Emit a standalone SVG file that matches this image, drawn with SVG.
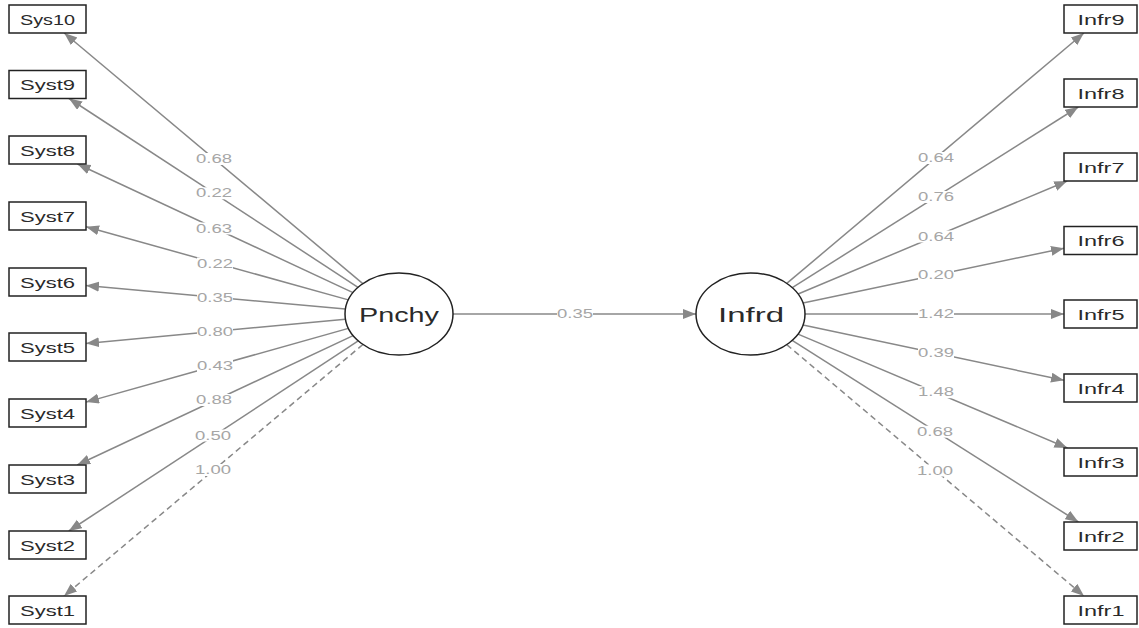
<svg xmlns="http://www.w3.org/2000/svg" width="1139" height="628" viewBox="0 0 1139 628">
<style>
.box{fill:#fff;stroke:#222;stroke-width:1.5}
.lat{fill:#fff;stroke:#222;stroke-width:1.5}
.bt{font-family:"Liberation Sans",Arial,sans-serif;font-size:15px;fill:#2a2a2a;text-anchor:middle;dominant-baseline:central}
.lt{font-family:"Liberation Sans",Arial,sans-serif;font-size:21px;fill:#2a2a2a;text-anchor:middle;dominant-baseline:central}
.e{stroke:#888;stroke-width:1.5;fill:none;marker-end:url(#ah)}
.d{stroke-dasharray:6 4}
.el{font-family:"Liberation Sans",Arial,sans-serif;font-size:12.5px;fill:#a6a6a6;text-anchor:middle;dominant-baseline:central}
.lb{fill:#fff}
</style>
<defs>
<marker id="ah" markerUnits="userSpaceOnUse" markerWidth="15" markerHeight="11" refX="13" refY="5" orient="auto">
<path d="M0,0 L13,5 L0,10 z" fill="#888"/>
</marker>
<rect id="bg" class="lb" x="-18" y="-6" width="36" height="12"/>
</defs>
<rect width="1139" height="628" fill="#fff"/>
<g id="connectors">
<line class="e" x1="362.8" y1="283.6" x2="64.2" y2="33"/>
<line class="e" x1="358" y1="287.3" x2="69" y2="98.5"/>
<line class="e" x1="353" y1="292.6" x2="77.5" y2="164"/>
<line class="e" x1="348.3" y1="299.9" x2="86" y2="226.8"/>
<line class="e" x1="345.4" y1="309.1" x2="86" y2="285.5"/>
<line class="e" x1="345.4" y1="319.2" x2="86" y2="343.4"/>
<line class="e" x1="348.4" y1="328.4" x2="86" y2="402.1"/>
<line class="e" x1="353.1" y1="335.6" x2="77.2" y2="465"/>
<line class="e" x1="358.2" y1="340.9" x2="68.8" y2="531"/>
<line class="e d" x1="362.9" y1="344.5" x2="64" y2="596"/>
<line class="e" x1="453" y1="314" x2="696" y2="314"/>
<line class="e" x1="786.8" y1="283.4" x2="1083.9" y2="33"/>
<line class="e" x1="792.3" y1="287.6" x2="1078.3" y2="107"/>
<line class="e" x1="798.1" y1="294" x2="1067.2" y2="181"/>
<line class="e" x1="803" y1="303" x2="1064" y2="248.2"/>
<line class="e" x1="805" y1="314" x2="1064" y2="314"/>
<line class="e" x1="803" y1="325.1" x2="1064" y2="380.3"/>
<line class="e" x1="798" y1="334.1" x2="1067.4" y2="448"/>
<line class="e" x1="792.2" y1="340.4" x2="1078.4" y2="522"/>
<line class="e d" x1="786.7" y1="344.6" x2="1084" y2="596"/>
<g id="edge-labels">
<use href="#bg" x="214" y="159"/><text class="el" x="214" y="159" textLength="36" lengthAdjust="spacingAndGlyphs">0.68</text>
<use href="#bg" x="214" y="193.3"/><text class="el" x="214" y="193.3" textLength="36" lengthAdjust="spacingAndGlyphs">0.22</text>
<use href="#bg" x="214" y="228.5"/><text class="el" x="214" y="228.5" textLength="36" lengthAdjust="spacingAndGlyphs">0.63</text>
<use href="#bg" x="215" y="263.5"/><text class="el" x="215" y="263.5" textLength="36" lengthAdjust="spacingAndGlyphs">0.22</text>
<use href="#bg" x="215" y="297.5"/><text class="el" x="215" y="297.5" textLength="36" lengthAdjust="spacingAndGlyphs">0.35</text>
<use href="#bg" x="215" y="331.8"/><text class="el" x="215" y="331.8" textLength="36" lengthAdjust="spacingAndGlyphs">0.80</text>
<use href="#bg" x="215" y="366"/><text class="el" x="215" y="366" textLength="36" lengthAdjust="spacingAndGlyphs">0.43</text>
<use href="#bg" x="214" y="400"/><text class="el" x="214" y="400" textLength="36" lengthAdjust="spacingAndGlyphs">0.88</text>
<use href="#bg" x="213" y="435.5"/><text class="el" x="213" y="435.5" textLength="36" lengthAdjust="spacingAndGlyphs">0.50</text>
<use href="#bg" x="213" y="470"/><text class="el" x="213" y="470" textLength="36" lengthAdjust="spacingAndGlyphs">1.00</text>
<use href="#bg" x="575" y="314"/><text class="el" x="575" y="314" textLength="36" lengthAdjust="spacingAndGlyphs">0.35</text>
<use href="#bg" x="936" y="158"/><text class="el" x="936" y="158" textLength="36" lengthAdjust="spacingAndGlyphs">0.64</text>
<use href="#bg" x="936" y="197"/><text class="el" x="936" y="197" textLength="36" lengthAdjust="spacingAndGlyphs">0.76</text>
<use href="#bg" x="936" y="236.5"/><text class="el" x="936" y="236.5" textLength="36" lengthAdjust="spacingAndGlyphs">0.64</text>
<use href="#bg" x="936" y="274.5"/><text class="el" x="936" y="274.5" textLength="36" lengthAdjust="spacingAndGlyphs">0.20</text>
<use href="#bg" x="936" y="314"/><text class="el" x="936" y="314" textLength="36" lengthAdjust="spacingAndGlyphs">1.42</text>
<use href="#bg" x="936" y="353"/><text class="el" x="936" y="353" textLength="36" lengthAdjust="spacingAndGlyphs">0.39</text>
<use href="#bg" x="936" y="392.2"/><text class="el" x="936" y="392.2" textLength="36" lengthAdjust="spacingAndGlyphs">1.48</text>
<use href="#bg" x="935" y="431.7"/><text class="el" x="935" y="431.7" textLength="36" lengthAdjust="spacingAndGlyphs">0.68</text>
<use href="#bg" x="935" y="470.5"/><text class="el" x="935" y="470.5" textLength="36" lengthAdjust="spacingAndGlyphs">1.00</text>
</g>
</g>
<g id="Pnchy"><ellipse class="lat" cx="399" cy="314" rx="54" ry="41"/><text class="lt" x="399" y="314" textLength="80" lengthAdjust="spacingAndGlyphs">Pnchy</text></g>
<g id="Infrd"><ellipse class="lat" cx="750.5" cy="314" rx="54.5" ry="41"/><text class="lt" x="751" y="314" textLength="66" lengthAdjust="spacingAndGlyphs">Infrd</text></g>
<g id="Sys10"><rect class="box" x="9" y="5" width="77" height="28"/><text class="bt" x="47.5" y="19" textLength="55" lengthAdjust="spacingAndGlyphs">Sys10</text></g>
<g id="Syst9"><rect class="box" x="9" y="70.5" width="77" height="28"/><text class="bt" x="47.5" y="84.5" textLength="55" lengthAdjust="spacingAndGlyphs">Syst9</text></g>
<g id="Syst8"><rect class="box" x="9" y="136" width="77" height="28"/><text class="bt" x="47.5" y="150" textLength="55" lengthAdjust="spacingAndGlyphs">Syst8</text></g>
<g id="Syst7"><rect class="box" x="9" y="202" width="77" height="28"/><text class="bt" x="47.5" y="216" textLength="55" lengthAdjust="spacingAndGlyphs">Syst7</text></g>
<g id="Syst6"><rect class="box" x="9" y="268" width="77" height="28"/><text class="bt" x="47.5" y="282" textLength="55" lengthAdjust="spacingAndGlyphs">Syst6</text></g>
<g id="Syst5"><rect class="box" x="9" y="333" width="77" height="28"/><text class="bt" x="47.5" y="347" textLength="55" lengthAdjust="spacingAndGlyphs">Syst5</text></g>
<g id="Syst4"><rect class="box" x="9" y="399" width="77" height="28"/><text class="bt" x="47.5" y="413" textLength="55" lengthAdjust="spacingAndGlyphs">Syst4</text></g>
<g id="Syst3"><rect class="box" x="9" y="465" width="77" height="28"/><text class="bt" x="47.5" y="479" textLength="55" lengthAdjust="spacingAndGlyphs">Syst3</text></g>
<g id="Syst2"><rect class="box" x="9" y="531" width="77" height="28"/><text class="bt" x="47.5" y="545" textLength="55" lengthAdjust="spacingAndGlyphs">Syst2</text></g>
<g id="Syst1"><rect class="box" x="9" y="596" width="77" height="28"/><text class="bt" x="47.5" y="610" textLength="55" lengthAdjust="spacingAndGlyphs">Syst1</text></g>
<g id="Infr9"><rect class="box" x="1064" y="5" width="73" height="28"/><text class="bt" x="1101" y="19" textLength="47" lengthAdjust="spacingAndGlyphs">Infr9</text></g>
<g id="Infr8"><rect class="box" x="1064" y="79" width="73" height="28"/><text class="bt" x="1101" y="93" textLength="47" lengthAdjust="spacingAndGlyphs">Infr8</text></g>
<g id="Infr7"><rect class="box" x="1064" y="153" width="73" height="28"/><text class="bt" x="1101" y="167" textLength="47" lengthAdjust="spacingAndGlyphs">Infr7</text></g>
<g id="Infr6"><rect class="box" x="1064" y="226.5" width="73" height="28"/><text class="bt" x="1101" y="240.5" textLength="47" lengthAdjust="spacingAndGlyphs">Infr6</text></g>
<g id="Infr5"><rect class="box" x="1064" y="300" width="73" height="28"/><text class="bt" x="1101" y="314" textLength="47" lengthAdjust="spacingAndGlyphs">Infr5</text></g>
<g id="Infr4"><rect class="box" x="1064" y="374" width="73" height="28"/><text class="bt" x="1101" y="388" textLength="47" lengthAdjust="spacingAndGlyphs">Infr4</text></g>
<g id="Infr3"><rect class="box" x="1064" y="448" width="73" height="28"/><text class="bt" x="1101" y="462" textLength="47" lengthAdjust="spacingAndGlyphs">Infr3</text></g>
<g id="Infr2"><rect class="box" x="1064" y="522" width="73" height="28"/><text class="bt" x="1101" y="536" textLength="47" lengthAdjust="spacingAndGlyphs">Infr2</text></g>
<g id="Infr1"><rect class="box" x="1064" y="596" width="73" height="28"/><text class="bt" x="1101" y="610" textLength="47" lengthAdjust="spacingAndGlyphs">Infr1</text></g>
</svg>
